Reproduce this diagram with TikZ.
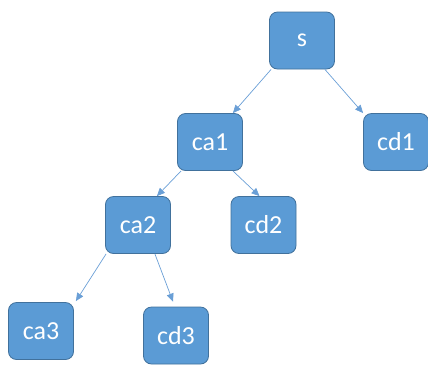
\documentclass[tikz,border=0pt]{standalone}
\usepackage{fontspec}
\setmainfont{Carlito}
\usetikzlibrary{arrows.meta}
\definecolor{boxfill}{HTML}{5B9BD5}
\definecolor{boxline}{HTML}{41719C}
\definecolor{edgecol}{HTML}{6A9FD6}
\begin{document}
\begin{tikzpicture}[x=1pt,y=-1pt,
  treebox/.style={draw=boxline, line width=0.8pt, fill=boxfill, rounded corners=8pt,
    minimum width=65pt, minimum height=57pt, inner sep=0pt, text=white,
    font=\fontsize{26}{30}\selectfont},
  link/.style={draw=edgecol, line width=0.7pt, -{Triangle[length=8pt,width=7pt]}}]
\useasboundingbox (0,0) rectangle (428,365);
\node[treebox] (s) at (302,40.5) {s};
\node[treebox] (ca1) at (210,142) {ca1};
\node[treebox] (cd1) at (396,142) {cd1};
\node[treebox] (ca2) at (138,225) {ca2};
\node[treebox] (cd2) at (263.5,225) {cd2};
\node[treebox] (ca3) at (41,331) {ca3};
\node[treebox] (cd3) at (176,335.5) {cd3};
\draw[link] ([xshift=2pt]s.south west) -- ([xshift=-10pt]ca1.north east);
\draw[link] ([xshift=-10pt]s.south east) -- (cd1.north west);
\draw[link] ([xshift=4pt]ca1.south west) -- ([xshift=-14pt]ca2.north east);
\draw[link] ([xshift=-10pt]ca1.south east) -- ([xshift=-4pt]cd2.north);
\draw[link] ([xshift=1pt]ca2.south west) -- ([xshift=2pt,yshift=1pt]ca3.north east);
\draw[link] ([xshift=-16pt]ca2.south east) -- ([xshift=-3pt,yshift=5pt]cd3.north);
\end{tikzpicture}
\end{document}
